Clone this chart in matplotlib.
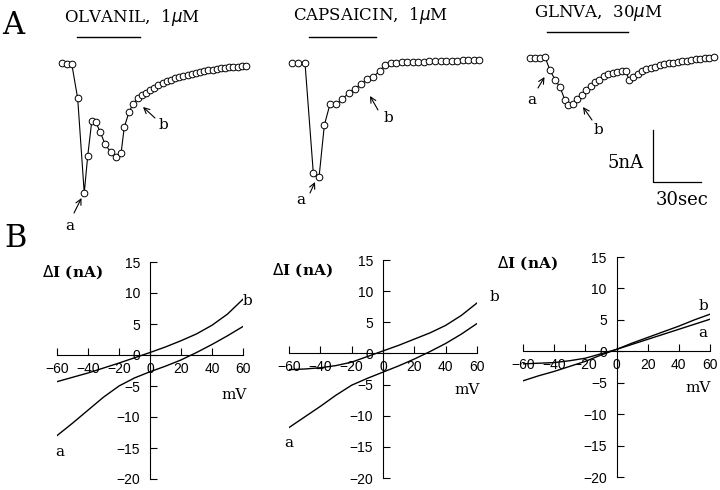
import numpy as np
import matplotlib.pyplot as plt

# --- panel A: time courses (t in sec, current in nA rel. to baseline) ---
olv_t = [0, 3.1, 6.1, 9.8, 13.9, 16.1, 18.6, 21.1, 23.8, 26.9, 30.6, 33.6, 36.9, 38.9, 41.9, 44.6, 47.3,
         49.9, 52.5, 55.1, 57.7, 60.3, 62.9, 65.5, 68.1, 70.7, 73.3, 75.9, 78.5, 81.1, 83.7, 86.3,
         88.9, 91.5, 94.1, 96.7, 99.3, 101.9, 104.5, 107.1, 109.7, 112.3, 114.9]
olv_i = [0, -0.1, -0.1, -3.4, -12.5, -8.9, -5.6, -5.7, -6.6, -7.8, -8.6, -9.0, -8.7, -6.2, -4.7, -3.9, -3.4,
         -3.1, -2.85, -2.6, -2.4, -2.15, -1.95, -1.75, -1.6, -1.45, -1.35, -1.25, -1.15, -1.05, -0.95, -0.85,
         -0.8, -0.7, -0.65, -0.55, -0.5, -0.45, -0.4, -0.4, -0.35, -0.3, -0.3]

cap_t = [0, 4.1, 8.3, 13.5, 17.1, 20.4, 23.9, 27.7, 31.6, 35.8, 39.6, 43.3, 47.3, 51.0, 55.2, 58.3,
         61.9, 65.4, 68.8, 72.3, 75.7, 79.2, 82.7, 86.1, 89.6, 93.0, 96.5, 100.0, 103.4, 106.9, 110.3, 113.8, 117.3]
cap_i = [0, 0, 0, -10.6, -11.0, -6.0, -4.0, -4.0, -3.5, -2.9, -2.5, -2.05, -1.6, -1.35, -0.77, -0.22,
         -0.05, 0, 0.05, 0.05, 0.1, 0.1, 0.1, 0.15, 0.15, 0.15, 0.2, 0.2, 0.2, 0.25, 0.25, 0.25, 0.3]

gln_t = [0, 3.1, 6.3, 9.4, 12.5, 15.6, 18.8, 21.9, 23.9, 27.1, 29.6, 32.3, 35.0, 37.9, 40.6, 43.3, 46.3,
         48.9, 51.7, 54.6, 57.3, 59.7, 62.1, 64.6, 67.3, 70.0,
         72.8, 75.6, 78.4, 81.2, 84.0, 86.8, 89.6, 92.4, 95.2, 98.0, 100.8, 103.6, 106.4, 109.2, 112.0, 114.8]
gln_i = [0, 0, 0, 0.05, -1.2, -2.1, -2.85, -4.1, -4.55, -4.5, -4.0, -3.6, -3.1, -2.7, -2.3, -2.1, -1.75,
         -1.55, -1.45, -1.35, -1.25, -1.3, -2.15, -1.9, -1.55, -1.25,
         -1.1, -0.95, -0.85, -0.75, -0.65, -0.55, -0.5, -0.4, -0.35, -0.3, -0.2, -0.15, -0.1, -0.05, 0, 0.05]

# drug application (start, end sec)
apps = [(9.4, 48.8), (10.8, 52.7), (10.6, 61.3)]
titles = ["OLVANIL,  1$\\mu$M", "CAPSAICIN,  1$\\mu$M", "GLNVA,  30$\\mu$M"]

# --- panel B: I-V curves ---
mv = [-60, -50, -40, -30, -20, -10, 0, 10, 20, 30, 40, 50, 60]
olv_b = [-4.3, -3.6, -2.9, -2.1, -1.3, -0.45, 0.4, 1.3, 2.3, 3.4, 4.8, 6.6, 9.0]
olv_a = [-13.0, -11.0, -8.9, -6.8, -5.0, -3.7, -2.7, -1.8, -0.8, 0.4, 1.7, 3.1, 4.6]
cap_b = [-2.6, -2.5, -2.3, -1.95, -1.4, -0.5, 0.4, 1.3, 2.3, 3.3, 4.5, 6.1, 8.1]
cap_a = [-11.9, -10.2, -8.5, -6.7, -5.1, -4.0, -3.0, -2.0, -0.9, 0.3, 1.6, 3.1, 4.8]
gln_b = [-4.7, -3.9, -3.2, -2.4, -1.6, -0.6, 0.3, 1.3, 2.2, 3.1, 4.0, 5.0, 5.9]
gln_a = [-2.0, -1.9, -1.8, -1.5, -1.1, -0.4, 0.3, 1.1, 1.9, 2.7, 3.5, 4.3, 5.1]

W, H = 720, 490
fig = plt.figure(figsize=(W / 100, H / 100), dpi=100)
serif = "DejaVu Serif"


def rect(l, r, t, b):
    return [l / W, 1 - b / H, (r - l) / W, (b - t) / H]


# trace axes share one scale: 1.6 px/sec, 10.4 px/nA
PXS, PXN = 1.6, 10.4
origins = [(62, 63), (291.7, 62.7), (530, 57.7)]
traces = [(olv_t, olv_i), (cap_t, cap_i), (gln_t, gln_i)]
axA = []
for (x0, y0), (t, i), (s, e) in zip(origins, traces, apps):
    ax = fig.add_axes(rect(x0 - 5 * PXS, x0 + 120 * PXS, y0 - 5 * PXN, y0 + 17 * PXN))
    ax.set_xlim(-5, 120)
    ax.set_ylim(-17, 5)
    ax.axis("off")
    ax.plot(t, i, "-", color="black", lw=0.8, marker="o", ms=4.8, mfc="white",
            mec="black", mew=0.7, clip_on=False)
    ax.plot([s, e], [2.5, 2.5], color="black", lw=1.0, clip_on=False)
    axA.append(ax)

# scale bar on the last trace
sb = axA[2]
sb.plot([76.9, 76.9, 106.9], [-6.95, -11.95, -11.95], color="black", lw=0.9, clip_on=False)

# --- panel B axes ---
bpos = [(57, 243, 262, 479), (289, 477, 260, 478), (523, 710, 257, 477)]
curves = [(olv_a, olv_b), (cap_a, cap_b), (gln_a, gln_b)]
for (l, r, t, b), (ca, cb) in zip(bpos, curves):
    ax = fig.add_axes(rect(l, r, t, b))
    ax.plot(mv, ca, color="black", lw=1.0)
    ax.plot(mv, cb, color="black", lw=1.0)
    ax.set_xlim(-60, 60)
    ax.set_ylim(-20, 15)
    ax.spines["left"].set_position(("data", 0))
    ax.spines["bottom"].set_position(("data", 0))
    ax.spines["top"].set_visible(False)
    ax.spines["right"].set_visible(False)
    ax.patch.set_visible(False)
    ax.set_xticks(range(-60, 61, 20))
    ax.set_yticks(range(-20, 16, 5))
    ax.tick_params(direction="in", length=5, width=0.8, labelsize=10)
    ax.tick_params(axis="x", pad=5)
    ax.tick_params(axis="y", pad=7)
    for lab in ax.get_xticklabels() + ax.get_yticklabels():
        lab.set_family("Liberation Sans")

# overlay in pixel coordinates for texts and arrows
ov = fig.add_axes([0, 0, 1, 1])
ov.set_xlim(0, W)
ov.set_ylim(H, 0)
ov.axis("off")

ov.text(13, 26, "A", fontsize=22, family=serif, ha="center", va="center")
ov.text(15, 238, "B", fontsize=22, family=serif, ha="center", va="center")
for (x, y), s in zip([(132, 17), (370, 15), (598, 13)], titles):
    ov.text(x, y, s, fontsize=12, family=serif, ha="center", va="center")

arrows = [((74, 213), (81.5, 198)), ((155, 118), (143, 107)),
          ((310, 193), (315, 182)), ((378, 110), (370, 96)),
          ((538, 88), (544.5, 77)), ((592, 120), (583, 107))]
for tail, head in arrows:
    ov.annotate("", xy=head, xytext=tail,
                arrowprops=dict(arrowstyle="->", lw=0.8, color="black",
                                shrinkA=0, shrinkB=0))
lab_ab = [(70, 226, "a"), (163, 125, "b"), (301, 200, "a"), (388, 118, "b"),
          (532, 100, "a"), (598, 130, "b"),
          (247, 301, "b"), (60, 452, "a"), (494, 297, "b"), (289, 443, "a"),
          (703, 306, "b"), (703, 333, "a")]
for x, y, s in lab_ab:
    ov.text(x, y, s, fontsize=11, family=serif, ha="center", va="center")

ov.text(644, 163, "5nA", fontsize=13, family=serif, ha="right", va="center")
ov.text(682, 200, "30sec", fontsize=13, family=serif, ha="center", va="center")

for x, y in [(72, 272), (302, 270), (527, 263)]:
    ov.text(x, y, "$\\Delta$I (nA)", fontsize=11, family=serif, weight="bold",
            ha="center", va="center")
for x, y in [(234, 395), (467, 390), (698, 388)]:
    ov.text(x, y, "mV", fontsize=11, family=serif, ha="center", va="center")

fig.savefig("out.png", dpi=100)
